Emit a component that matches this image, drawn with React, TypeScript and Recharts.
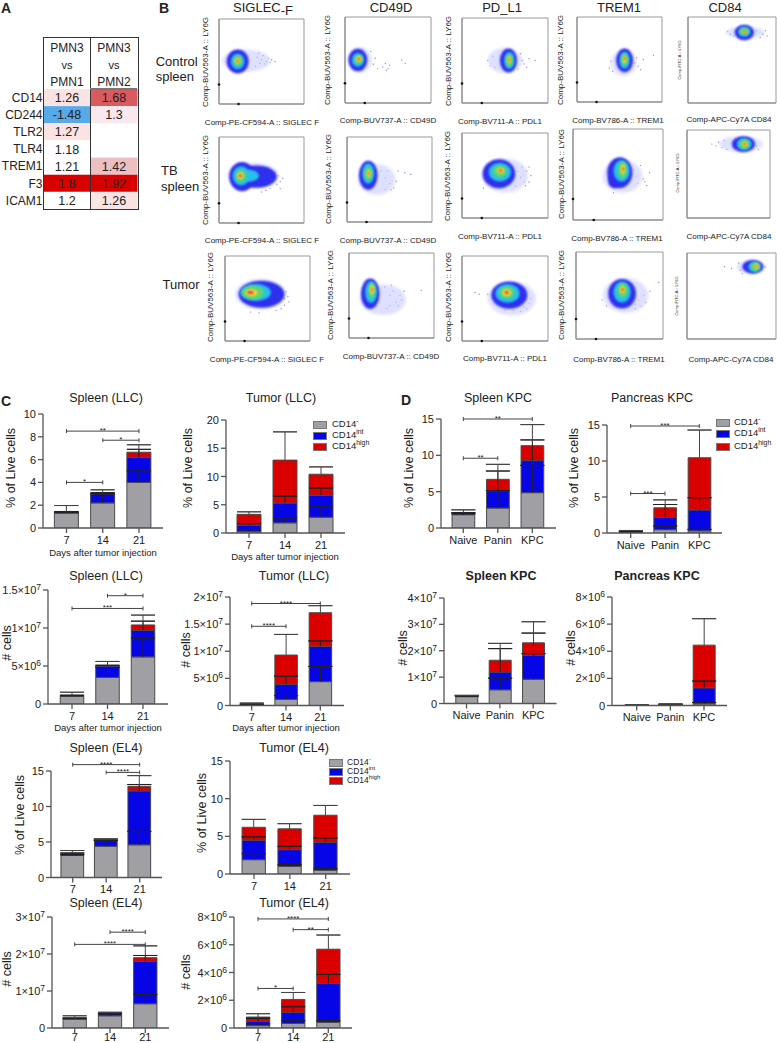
import React from "react";
import {
  Bar,
  BarChart,
  ErrorBar,
  ReferenceArea,
  ReferenceDot,
  ReferenceLine,
  Scatter,
  ScatterChart,
  XAxis,
  YAxis,
} from "recharts";

const FONT = "'Liberation Sans', Arial, sans-serif";
const INK = "#222";
const GRAY = "#a09fa3";
const BLUE = "#0505e6";
const RED = "#db0000";
const OUTLINE = "#4a4a4a";

// panel A
const heatRows = ["CD14", "CD244", "TLR2", "TLR4", "TREM1", "F3", "ICAM1"];
const heatPmn1 = [1.26, -1.48, 1.27, 1.18, 1.21, 1.8, 1.2];
const heatPmn2 = [1.68, 1.3, null, null, 1.42, 1.92, 1.26];

// panel B, contours of each density plot: x, y, half width, half height (percent of the plot), density level
const densityColors = ["#c9ccff", "#2f2fee", "#25c2ea", "#66d46a", "#f0e040", "#e8402a"];
const siglecControl = [[32, 51, 28, 13, 0], [22, 50, 13, 14, 1], [22, 50, 8, 9, 2], [22, 51, 5, 6, 3], [22, 51, 3, 3, 4], [22, 51, 1.5, 1.5, 5]];
const cd49Control = [[17, 50, 14, 15, 0], [15, 50, 11, 13, 1], [15, 50, 7, 8, 2], [16, 51, 5, 5, 3], [16, 51, 3, 3, 4], [16, 51, 1.5, 1.5, 5]];
const pdl1Control = [[50, 50, 20, 15, 0], [54, 50, 10, 14, 1], [55, 50, 6, 10, 2], [55, 50, 4, 7, 3], [55, 51, 2, 4, 4], [55, 51, 1, 2, 5]];
const trem1Control = [[55, 46, 15, 15, 0], [56, 49, 10, 14, 1], [56, 49, 6, 10, 2], [56, 50, 4, 7, 3], [56, 50, 2, 4, 4], [56, 51, 1, 2, 5]];
const cd84Control = [[65, 82, 22, 7, 0], [64, 82, 11, 9, 1], [64, 83, 7, 6, 2], [64, 83, 5, 4, 3], [64, 83, 3, 2, 4], [64, 83, 1.5, 1.5, 5]];
const siglecTb = [[40, 55, 30, 15, 0], [44, 54, 24, 13, 1], [27, 54, 15, 17, 1], [35, 55, 12, 7, 2], [26, 55, 10, 11, 2], [26, 55, 6, 7, 3], [25, 55, 3.5, 4, 4], [25, 55, 2, 2, 5]];
const cd49Tb = [[35, 50, 22, 18, 0], [25, 55, 11, 17, 1], [25, 57, 7, 12, 2], [25, 57, 4.5, 8, 3], [25.5, 57, 2.5, 4, 4], [25.5, 57, 1, 2, 5]];
const pdl1Tb = [[50, 50, 27, 20, 0], [43, 52, 19, 17, 1], [44, 54, 13, 11, 2], [44, 55, 8, 7, 3], [45, 56, 4, 3, 4], [45, 56, 2, 1.5, 5]];
const trem1Tb = [[55, 48, 22, 18, 0], [46, 43, 7, 8, 1], [52, 52, 14, 17, 1], [54, 54, 9, 12, 2], [55, 55, 5, 9, 3], [55.5, 56, 2.5, 5, 4], [55.5, 56, 1, 2.5, 5]];
const cd84Tb = [[65, 84, 26, 9, 0], [68, 84, 14, 9, 1], [69, 84, 9, 7, 2], [69, 84, 6, 5, 3], [70, 84, 3, 3, 4], [70, 84, 1.5, 1.5, 5]];
const siglecTumor = [[42, 55, 30, 18, 0], [43, 55, 27, 16, 1], [36, 57, 18, 10, 2], [33, 57, 13, 8, 3], [31, 57, 7, 4, 4], [30, 57, 4, 2, 5]];
const cd49Tumor = [[40, 45, 27, 18, 0], [25, 52, 11, 18, 1], [26, 54, 7, 13, 2], [27, 56, 4, 9, 3], [27, 57, 2.5, 5, 4], [27, 57, 1, 2.5, 5]];
const pdl1Tumor = [[58, 50, 28, 20, 0], [55, 54, 21, 16, 1], [53, 56, 14, 11, 2], [52, 57, 9, 7, 3], [52, 57, 5, 4, 4], [52, 57, 2.5, 2, 5]];
const trem1Tumor = [[57, 50, 26, 20, 0], [53, 52, 16, 17, 1], [53, 54, 10, 12, 2], [53.5, 56, 6, 8, 3], [53.5, 56.5, 3, 4, 4], [53.5, 56.5, 1.5, 2, 5]];
const cd84Tumor = [[72, 84, 16, 8, 0], [74, 84, 12, 8, 1], [76, 84, 7, 6, 2], [77, 84, 5, 5, 3], [78, 85, 2.5, 3, 4], [78, 85, 1, 1.5, 5]];

// stray events outside the dense cloud
const siglecControlDots = [[45, 55], [48, 48], [50, 52], [52, 57], [54, 47], [56, 50], [58, 54], [60, 49], [62, 52], [66, 50], [47, 60], [43, 44]];
const cd49ControlDots = [[30, 60], [33, 45], [35, 52], [38, 40], [44, 42], [47, 46], [50, 40], [52, 44], [48, 38], [66, 50], [70, 46]];
const pdl1ControlDots = [[30, 50], [33, 44], [36, 55], [38, 42], [70, 50], [72, 46], [75, 42], [78, 52], [65, 40], [68, 58], [85, 50]];
const trem1ControlDots = [[38, 40], [40, 48], [42, 36], [68, 46], [70, 52], [72, 42], [75, 38], [78, 50], [90, 55]];
const cd84ControlDots = [[45, 83], [48, 80], [52, 78], [74, 78], [78, 84], [82, 76], [85, 80], [88, 84], [90, 78]];
const siglecTbDots = [[62, 50], [65, 58], [68, 45], [70, 55], [72, 48], [60, 40], [75, 52], [55, 38], [50, 36], [72, 40]];
const cd49TbDots = [[40, 60], [45, 52], [48, 60], [50, 45], [55, 40], [58, 48], [52, 38], [60, 60], [68, 58], [75, 56], [45, 38]];
const pdl1TbDots = [[65, 55], [68, 48], [70, 60], [72, 42], [75, 55], [78, 60], [80, 50], [74, 38], [78, 42], [62, 38], [25, 35]];
const trem1TbDots = [[68, 55], [70, 48], [72, 40], [75, 60], [78, 45], [80, 42], [85, 52], [82, 38], [45, 30], [40, 48]];
const cd84TbDots = [[30, 84], [35, 82], [38, 86], [42, 80], [48, 78], [84, 82], [86, 78], [45, 88]];
const siglecTumorDots = [[70, 50], [72, 58], [70, 42], [66, 38], [60, 36], [74, 52], [75, 46], [30, 34], [40, 33]];
const cd49TumorDots = [[42, 60], [48, 50], [52, 55], [55, 42], [58, 38], [60, 50], [62, 45], [48, 38], [65, 55], [50, 62], [45, 35], [85, 56]];
const pdl1TumorDots = [[30, 55], [72, 40], [75, 38], [78, 44], [72, 62], [80, 50], [68, 35], [60, 36], [50, 36], [20, 55], [15, 57]];
const trem1TumorDots = [[30, 45], [35, 38], [68, 40], [72, 45], [75, 38], [78, 50], [80, 42], [68, 35], [85, 55], [95, 65]];
const cd84TumorDots = [[42, 84], [50, 82], [58, 88], [60, 80], [88, 84], [62, 76]];

// panels C and D, layer heights and upper error of each layer
const days = ["7", "14", "21"];
const groups = ["Naive", "Panin", "KPC"];

const llcSpleenPctGray = [1.3, 2.2, 4.0];
const llcSpleenPctBlue = [0.1, 0.8, 2.2];
const llcSpleenPctRed = [0.02, 0.05, 0.45];
const llcSpleenPctErr = [[0.08, 0.8, 1.0], [0.05, 0.1, 0.7], [0.55, 0.3, 0.65]];

const llcTumorPctGray = [0.3, 1.8, 2.8];
const llcTumorPctBlue = [1.1, 3.5, 3.9];
const llcTumorPctRed = [1.9, 7.6, 3.7];
const llcTumorPctErr = [[0.25, 0.85, 1.8], [0.25, 1.2, 1.25], [0.45, 5, 1.3]];

// counts in millions
const llcSpleenNumGray = [1.0, 3.5, 6.2];
const llcSpleenNumBlue = [0.1, 1.5, 3.5];
const llcSpleenNumRed = [0.05, 0.05, 0.7];
const llcSpleenNumErr = [[0.1, 1.3, 2.45], [0.05, 0.1, 1.2], [0.4, 0.55, 1.3]];

const llcTumorNumGray = [0.1, 1.13, 4.4];
const llcTumorNumBlue = [0.1, 2.77, 6.5];
const llcTumorNumRed = [0.15, 5.4, 6.2];
const llcTumorNumErr = [[0.05, 0.7, 2.8], [0.05, 1.5, 1], [0.1, 3.8, 1.3]];

const el4SpleenPctGray = [3.1, 4.4, 4.6];
const el4SpleenPctBlue = [0.25, 0.8, 7.6];
const el4SpleenPctRed = [0.05, 0.05, 0.65];
const el4SpleenPctErr = [[0.1, 0.8, 1.9], [0.1, 0.1, 0.9], [0.4, 0.2, 1.5]];

const el4TumorPctGray = [1.9, 1.0, 0.5];
const el4TumorPctBlue = [2.57, 2.23, 3.7];
const el4TumorPctRed = [1.73, 2.77, 3.6];
const el4TumorPctErr = [[0.8, 0.24, 0.2], [0.45, 0.44, 0.58], [1.05, 0.68, 1.3]];

const el4SpleenNumGray = [2.4, 3.3, 6.55];
const el4SpleenNumBlue = [0.1, 0.7, 11.45];
const el4SpleenNumRed = [0.05, 0.05, 1.0];
const el4SpleenNumErr = [[0.3, 0.5, 2.5], [0.1, 0.1, 1.6], [0.75, 0.2, 3.2]];

const el4TumorNumGray = [0.17, 0.33, 0.41];
const el4TumorNumBlue = [0.31, 0.8, 2.79];
const el4TumorNumRed = [0.31, 0.93, 2.48];
const el4TumorNumErr = [[0.13, 0.2, 0.12], [0.22, 0.4, 0.66], [0.24, 0.5, 1.02]];

const kpcSpleenPctGray = [1.83, 2.75, 4.86];
const kpcSpleenPctBlue = [0.23, 2.39, 4.41];
const kpcSpleenPctRed = [0.04, 1.56, 2.06];
const kpcSpleenPctErr = [[0.14, 2.4, 3.76], [0.05, 2.7, 2.85], [0.4, 2.06, 2.9]];

const kpcPancreasPctGray = [0.1, 0.46, 0.3];
const kpcPancreasPctBlue = [0.1, 1.7, 2.9];
const kpcPancreasPctRed = [0.08, 1.34, 7.25];
const kpcPancreasPctErr = [[0.05, 0.5, 0.2], [0.05, 1.8, 1.7], [0.07, 1.1, 3.85]];

// counts in units of 10^7
const kpcSpleenNumGray = [0.26, 0.52, 0.92];
const kpcSpleenNumBlue = [0.01, 0.67, 0.91];
const kpcSpleenNumRed = [0.01, 0.45, 0.47];
const kpcSpleenNumErr = [[0.03, 0.44, 0.97], [0.02, 0.89, 0.84], [0.03, 0.64, 0.8]];

// counts in millions
const kpcPancreasNumGray = [0.01, 0.03, 0.12];
const kpcPancreasNumBlue = [0.005, 0.02, 1.18];
const kpcPancreasNumRed = [0.005, 0.02, 3.15];
const kpcPancreasNumErr = [[0.01, 0.04, 0.1], [0.01, 0.04, 0.5], [0.01, 0.05, 1.95]];

function Txt({ x, y, size = 12, rotate = 0, bold = false, start = false, children }: any) {
  return (
    <div
      style={{
        position: "absolute",
        left: x,
        top: y,
        transform: `translate(${start ? "0" : "-50%"},-50%) rotate(${rotate}deg)`,
        fontSize: size,
        fontWeight: bold ? 700 : 400,
        whiteSpace: "nowrap",
        lineHeight: 1,
        color: INK,
      }}
    >
      {children}
    </div>
  );
}

function SciTick({ x, y, payload, ticks, labels }: any) {
  const [base, exp] = labels[ticks.indexOf(payload.value)].split("^");
  return (
    <text x={x} y={y + 4} textAnchor="end" fontSize={11} fill={INK} fontFamily={FONT}>
      {base}
      {exp && (
        <tspan fontSize={8.5} dy={-4}>
          {exp}
        </tspan>
      )}
    </text>
  );
}

// significance bracket drawn from the ends of a reference segment
const bracketShape = (stars: string) => (p: any) => (
  <g stroke="#444" strokeWidth={1}>
    <line x1={p.x1} y1={p.y1} x2={p.x2} y2={p.y2} />
    <line x1={p.x1} y1={p.y1 - 2} x2={p.x1} y2={p.y1 + 2} />
    <line x1={p.x2} y1={p.y2 - 2} x2={p.x2} y2={p.y2 + 2} />
    <text
      x={(p.x1 + p.x2) / 2}
      y={p.y1 + 2}
      textAnchor="middle"
      fontSize={8}
      stroke="none"
      fill={INK}
      fontFamily={FONT}
    >
      {stars}
    </text>
  </g>
);

const YW = 60;
const TOP_PAD = 34;

// one whisker per layer: a zero width bar for the stem, and a [-e, e] bar so both caps fall on the upper end
function Whisker(key: string, color: string) {
  return [
    <ErrorBar key={key + "Stem"} dataKey={key + "Stem"} width={0} stroke={color} strokeWidth={1} direction="y" isAnimationActive={false} />,
    <ErrorBar key={key + "Cap"} dataKey={key + "Cap"} width={12} stroke={color} strokeWidth={1} direction="y" isAnimationActive={false} />,
  ];
}

function StackPanel({ left, right, top, bottom, first, last, barW, cats, gray, blue, red, err, ticks, labels, brackets = [], tickGap = 3 }: any) {
  const rows = cats.map((c: string, i: number) => ({
    cat: c,
    gray: gray[i],
    blue: blue[i],
    red: red[i],
    grayStem: [0, err[0][i]],
    grayCap: [-err[0][i], err[0][i]],
    blueStem: [0, err[1][i]],
    blueCap: [-err[1][i], err[1][i]],
    redStem: [0, err[2][i]],
    redCap: [-err[2][i], err[2][i]],
  }));
  const band = (last - first) / 2;
  const padL = first - band / 2 - left;
  const padR = right - (last + band / 2);
  return (
    <div style={{ position: "absolute", left: left - YW, top: top - TOP_PAD }}>
      <BarChart
        width={right - left + YW + 4}
        height={bottom - top + TOP_PAD + 22}
        data={rows}
        margin={{ top: TOP_PAD, right: 4, left: 0, bottom: 0 }}
        barCategoryGap={0}
      >
        <XAxis
          dataKey="cat"
          height={22}
          padding={{ left: padL, right: padR }}
          tick={{ fontSize: 11, fill: INK, fontFamily: FONT }}
          tickSize={5}
          tickMargin={tickGap}
          stroke="#555"
          strokeWidth={1.3}
          interval={0}
        />
        <YAxis
          width={YW}
          domain={[0, ticks[ticks.length - 1]]}
          ticks={ticks}
          interval={0}
          tickSize={5}
          tick={<SciTick ticks={ticks} labels={labels} />}
          stroke="#555"
          strokeWidth={1.3}
          allowDataOverflow
        />
        <Bar dataKey="gray" stackId="s" barSize={barW} fill={GRAY} stroke={OUTLINE} isAnimationActive={false}>
          {Whisker("gray", "#222")}
        </Bar>
        <Bar dataKey="blue" stackId="s" barSize={barW} fill={BLUE} stroke={OUTLINE} isAnimationActive={false}>
          {Whisker("blue", "#222")}
        </Bar>
        <Bar dataKey="red" stackId="s" barSize={barW} fill={RED} stroke={OUTLINE} isAnimationActive={false}>
          {Whisker("red", "#444")}
        </Bar>
        {brackets.map((b: any, i: number) => (
          <ReferenceLine
            key={i}
            segment={[
              { x: b[0], y: b[2] },
              { x: b[1], y: b[2] },
            ]}
            ifOverflow="visible"
            shape={bracketShape(b[3])}
          />
        ))}
      </BarChart>
    </div>
  );
}

const flowYTicks = [7, 17, 27, 40, 53, 67, 78, 90];
const flowXTicks = [5, 10, 15, 20, 30, 40, 50, 60, 70, 80, 90];

function FlowPlot({ left, right, top, bottom, contours, dots, marks = true }: any) {
  const w = right - left;
  const h = bottom - top;
  const data = contours.map((c: number[]) => ({ x: c[0], y: c[1], rx: c[2], ry: c[3], level: c[4] }));
  const strays = dots.map((d: number[]) => ({ x: d[0], y: d[1] }));
  return (
    <div style={{ position: "absolute", left: left - 6, top: top - 2 }}>
      <ScatterChart width={w + 10} height={h + 8} margin={{ top: 2, right: 4, left: 0, bottom: 0 }}>
        <XAxis type="number" dataKey="x" domain={[0, 100]} ticks={flowXTicks} height={6} tick={false} tickSize={2} stroke="#888" />
        <YAxis type="number" dataKey="y" domain={[0, 100]} ticks={flowYTicks} width={6} tick={false} tickSize={2} stroke="#888" />
        <ReferenceArea x1={0} x2={100} y1={0} y2={100} fill="none" stroke="#999" strokeOpacity={1} />
        <Scatter
          data={strays}
          isAnimationActive={false}
          shape={(p: any) => <circle cx={p.cx} cy={p.cy} r={0.7} fill="#8a8cf2" />}
        />
        <Scatter
          data={data}
          isAnimationActive={false}
          shape={(p: any) => (
            <ellipse
              cx={p.cx}
              cy={p.cy}
              rx={(p.payload.rx * w) / 100}
              ry={(p.payload.ry * h) / 100}
              fill={densityColors[p.payload.level]}
              fillOpacity={p.payload.level === 0 ? 0.6 : 1}
              style={{ filter: `blur(${p.payload.level === 0 ? 1.5 : 0.8}px)` }}
            />
          )}
        />
        {marks && <ReferenceDot x={0} y={23} r={1.3} fill="#111" stroke="none" ifOverflow="visible" />}
        {marks && <ReferenceDot x={23} y={0} r={1.3} fill="#111" stroke="none" ifOverflow="visible" />}
      </ScatterChart>
    </div>
  );
}

function heatFill(v: number) {
  if (v < 0) return "#58a9e8";
  if (v >= 1.8) return "#d90000";
  if (v >= 1.6) return "#d95a5f";
  if (v >= 1.4) return "#ecbfc3";
  if (v >= 1.3) return "#f9e9ef";
  if (v >= 1.25) return "#f9e3e3";
  return "#ffffff";
}

function HeatTable() {
  const cells: any[] = [];
  heatRows.forEach((_, i) => {
    if (heatPmn1[i] !== null) cells.push({ col: 0.5, row: i + 0.5, value: heatPmn1[i] });
    if (heatPmn2[i] !== null) cells.push({ col: 1.5, row: i + 0.5, value: heatPmn2[i] });
  });
  const w = 94;
  const h = 120;
  return (
    <div style={{ position: "absolute", left: 0, top: 89 }}>
      <ScatterChart width={43.5 + w} height={h} margin={{ top: 0, right: 0, left: 0, bottom: 0 }}>
        <XAxis type="number" dataKey="col" domain={[0, 2]} hide />
        <YAxis
          type="number"
          dataKey="row"
          domain={[0, 7]}
          reversed
          width={43.5}
          ticks={heatRows.map((_, i) => i + 0.5)}
          interval={0}
          tickFormatter={(v: number) => heatRows[Math.floor(v)]}
          tick={{ fontSize: 12, fill: INK, fontFamily: FONT }}
          tickLine={false}
          axisLine={false}
          tickMargin={1}
          tickSize={0}
        />
        <Scatter
          data={cells}
          isAnimationActive={false}
          shape={(p: any) => (
            <g>
              <rect x={p.cx - w / 4} y={p.cy - h / 14} width={w / 2} height={h / 7} fill={heatFill(p.payload.value)} />
              <text x={p.cx} y={p.cy + 4.5} textAnchor="middle" fontSize={12.5} fill={INK} fontFamily={FONT}>
                {p.payload.value}
              </text>
            </g>
          )}
        />
      </ScatterChart>
    </div>
  );
}

function LegendBox({ x, ys, textX, size }: any) {
  const names = [["-", GRAY], ["int", BLUE], ["high", RED]];
  return (
    <>
      {names.map(([sup, color], i) => (
        <React.Fragment key={sup}>
          <div
            style={{
              position: "absolute",
              left: x,
              top: ys[i] - 3.5,
              width: 12,
              height: 6,
              background: color,
              border: "1px solid #777",
            }}
          />
          <Txt x={textX} y={ys[i]} size={size} start>
            CD14<sup style={{ fontSize: size * 0.72, lineHeight: 0 }}>{sup}</sup>
          </Txt>
        </React.Fragment>
      ))}
    </>
  );
}

const LY = "Comp-BUV563-A :: LY6G";
const FITC = "Comp-FITC-A :: LY6G";
const SIG = "Comp-PE-CF594-A :: SIGLEC F";
const CD49 = "Comp-BUV737-A :: CD49D";
const PDL = "Comp-BV711-A :: PDL1";
const TREM = "Comp-BV786-A :: TREM1";
const APC = "Comp-APC-Cy7A CD84";

export default function App() {
  return (
    <div
      style={{
        position: "absolute",
        left: 0,
        top: 0,
        width: 777,
        height: 1043,
        overflow: "hidden",
        background: "#fff",
        fontFamily: FONT,
      }}
    >
      {/* A */}
      <Txt x={6} y={8} size={14} bold>A</Txt>
      <HeatTable />
      <div style={{ position: "absolute", left: 43, top: 37, width: 94, height: 171, border: "1px solid #333" }} />
      <div style={{ position: "absolute", left: 90, top: 37, width: 1, height: 172, background: "#333" }} />
      <div style={{ position: "absolute", left: 90, top: 88, width: 47, height: 1.5, background: "#777" }} />
      {[67, 114].map((x) => (
        <React.Fragment key={x}>
          <Txt x={x} y={48} size={12}>PMN3</Txt>
          <Txt x={x} y={65} size={11}>vs</Txt>
          <Txt x={x} y={82} size={12}>{x === 67 ? "PMN1" : "PMN2"}</Txt>
        </React.Fragment>
      ))}

      {/* B */}
      <Txt x={164} y={8} size={14} bold>B</Txt>
      <Txt x={263} y={7} size={13}>SIGLEC<sub style={{ fontSize: 13, lineHeight: 0 }}>-F</sub></Txt>
      <Txt x={391} y={7} size={13}>CD49D</Txt>
      <Txt x={502} y={7} size={13}>PD_L1</Txt>
      <Txt x={619} y={7} size={13}>TREM1</Txt>
      <Txt x={725} y={7} size={13}>CD84</Txt>
      <Txt x={155.7} y={61} size={13} start>Control</Txt>
      <Txt x={155.7} y={76} size={13} start>spleen</Txt>
      <Txt x={161} y={170} size={13} start>TB</Txt>
      <Txt x={161} y={186} size={13} start>spleen</Txt>
      <Txt x={162.5} y={284} size={13} start>Tumor</Txt>

      <FlowPlot left={219} right={304} top={19} bottom={104} contours={siglecControl} dots={siglecControlDots} />
      <FlowPlot left={345} right={431} top={17} bottom={103} contours={cd49Control} dots={cd49ControlDots} />
      <FlowPlot left={462} right={548} top={18} bottom={103} contours={pdl1Control} dots={pdl1ControlDots} />
      <FlowPlot left={577} right={662} top={17} bottom={102} contours={trem1Control} dots={trem1ControlDots} />
      <FlowPlot left={688} right={776} top={17} bottom={103} contours={cd84Control} dots={cd84ControlDots} marks={false} />
      <FlowPlot left={219} right={304} top={137} bottom={223} contours={siglecTb} dots={siglecTbDots} />
      <FlowPlot left={347} right={432} top={137} bottom={222} contours={cd49Tb} dots={cd49TbDots} />
      <FlowPlot left={462} right={548} top={133} bottom={218} contours={pdl1Tb} dots={pdl1TbDots} />
      <FlowPlot left={573} right={663} top={129} bottom={220} contours={trem1Tb} dots={trem1TbDots} />
      <FlowPlot left={687} right={770} top={130} bottom={218} contours={cd84Tb} dots={cd84TbDots} marks={false} />
      <FlowPlot left={225} right={310} top={256} bottom={341} contours={siglecTumor} dots={siglecTumorDots} />
      <FlowPlot left={349} right={434} top={253} bottom={338} contours={cd49Tumor} dots={cd49TumorDots} />
      <FlowPlot left={462} right={548} top={256} bottom={341} contours={pdl1Tumor} dots={pdl1TumorDots} />
      <FlowPlot left={576} right={663} top={252} bottom={339} contours={trem1Tumor} dots={trem1TumorDots} />
      <FlowPlot left={687} right={776} top={253} bottom={339} contours={cd84Tumor} dots={cd84TumorDots} marks={false} />

      {[[206, 62], [328, 60], [449, 61], [561, 60], [206, 180], [329, 179], [448, 176], [562, 174], [211, 297], [331, 295], [449, 297], [562, 295]].map(([x, y]) => (
        <Txt key={`${x}-${y}`} x={x} y={y} size={8} rotate={-90}>{LY}</Txt>
      ))}
      {[[680, 60], [678, 173], [677, 296]].map(([x, y]) => (
        <Txt key={`${x}-${y}`} x={x} y={y} size={4} rotate={-90}>{FITC}</Txt>
      ))}
      <Txt x={262} y={123} size={8}>{SIG}</Txt>
      <Txt x={388} y={121} size={8}>{CD49}</Txt>
      <Txt x={500} y={122} size={8}>{PDL}</Txt>
      <Txt x={618} y={121} size={8}>{TREM}</Txt>
      <Txt x={729} y={120} size={8}>{APC}</Txt>
      <Txt x={262} y={241} size={8}>{SIG}</Txt>
      <Txt x={388} y={241} size={8}>{CD49}</Txt>
      <Txt x={500} y={237} size={8}>{PDL}</Txt>
      <Txt x={617} y={239} size={8}>{TREM}</Txt>
      <Txt x={729} y={237} size={8}>{APC}</Txt>
      <Txt x={267} y={360} size={8}>{SIG}</Txt>
      <Txt x={391} y={357} size={8}>{CD49}</Txt>
      <Txt x={505} y={359} size={8}>{PDL}</Txt>
      <Txt x={619} y={360} size={8}>{TREM}</Txt>
      <Txt x={731} y={360} size={8}>{APC}</Txt>

      {/* C */}
      <Txt x={6} y={401} size={14} bold>C</Txt>
      <Txt x={106} y={398} size={12.5}>Spleen (LLC)</Txt>
      <Txt x={11} y={468} size={12.5} rotate={-90}>% of Live cells</Txt>
      <Txt x={103} y={553} size={9.5}>Days after tumor injection</Txt>
      <StackPanel
        left={43} right={163} top={414} bottom={528} first={66.5} last={139} barW={24}
        cats={days} gray={llcSpleenPctGray} blue={llcSpleenPctBlue} red={llcSpleenPctRed} err={llcSpleenPctErr}
        ticks={[0, 2, 4, 6, 8, 10]} labels={["0", "2", "4", "6", "8", "10"]}
        brackets={[["7", "21", 8.5, "**"], ["14", "21", 7.7, "*"], ["7", "14", 4, "*"]]}
      />

      <Txt x={281} y={398} size={12.5}>Tumor (LLC)</Txt>
      <Txt x={188} y={468} size={12.5} rotate={-90}>% of Live cells</Txt>
      <Txt x={285} y={557} size={9.5}>Days after tumor injection</Txt>
      <StackPanel
        left={226} right={345} top={420} bottom={533} first={249} last={321} barW={24}
        cats={days} gray={llcTumorPctGray} blue={llcTumorPctBlue} red={llcTumorPctRed} err={llcTumorPctErr}
        ticks={[0, 5, 10, 15, 20]} labels={["0", "5", "10", "15", "20"]}
      />
      <LegendBox x={313} ys={[424, 435, 446]} textX={332} size={9.5} />

      <Txt x={106} y={576} size={12.5}>Spleen (LLC)</Txt>
      <Txt x={7} y={643} size={12.5} rotate={-90}># cells</Txt>
      <Txt x={108} y={728} size={9.5}>Days after tumor injection</Txt>
      <StackPanel
        left={48} right={168} top={590} bottom={704} first={72} last={143} barW={23.5}
        cats={days} gray={llcSpleenNumGray} blue={llcSpleenNumBlue} red={llcSpleenNumRed} err={llcSpleenNumErr}
        ticks={[0, 5, 10, 15]} labels={["0", "5×10^6", "1×10^7", "1.5×10^7"]}
        brackets={[["7", "21", 12.57, "***"], ["14", "21", 14.25, "*"]]}
      />

      <Txt x={294} y={576} size={12.5}>Tumor (LLC)</Txt>
      <Txt x={186} y={650} size={12.5} rotate={-90}># cells</Txt>
      <Txt x={286} y={728} size={9.5}>Days after tumor injection</Txt>
      <StackPanel
        left={230} right={344} top={597} bottom={705.5} first={251.7} last={320.3} barW={22.5}
        cats={days} gray={llcTumorNumGray} blue={llcTumorNumBlue} red={llcTumorNumRed} err={llcTumorNumErr}
        ticks={[0, 5, 10, 15, 20]} labels={["0", "5×10^6", "1×10^7", "1.5×10^7", "2×10^7"]}
        brackets={[["7", "21", 18.8, "****"], ["7", "14", 14.6, "****"]]}
      />

      <Txt x={106} y={748} size={12.5}>Spleen (EL4)</Txt>
      <Txt x={20} y={815} size={12.5} rotate={-90}>% of Live cells</Txt>
      <StackPanel
        left={51} right={162} top={771} bottom={877.5} first={72.7} last={139.7} barW={22.7}
        cats={days} gray={el4SpleenPctGray} blue={el4SpleenPctBlue} red={el4SpleenPctRed} err={el4SpleenPctErr}
        ticks={[0, 5, 10, 15]} labels={["0", "5", "10", "15"]}
        brackets={[["7", "21", 15.9, "****"], ["14", "21", 14.8, "****"]]}
      />

      <Txt x={294} y={748} size={12.5}>Tumor (EL4)</Txt>
      <Txt x={202} y={813} size={12.5} rotate={-90}>% of Live cells</Txt>
      <StackPanel
        left={230} right={350} top={761} bottom={874} first={254} last={325.7} barW={23.3}
        cats={days} gray={el4TumorPctGray} blue={el4TumorPctBlue} red={el4TumorPctRed} err={el4TumorPctErr}
        ticks={[0, 5, 10, 15]} labels={["0", "5", "10", "15"]}
      />
      <LegendBox x={329} ys={[762, 771, 780]} textX={347} size={8.5} />

      <Txt x={106} y={903} size={12.5}>Spleen (EL4)</Txt>
      <Txt x={7} y={969} size={12.5} rotate={-90}># cells</Txt>
      <StackPanel
        left={52} right={169} top={917} bottom={1028} first={74.7} last={145.3} barW={23.3} tickGap={0}
        cats={days} gray={el4SpleenNumGray} blue={el4SpleenNumBlue} red={el4SpleenNumRed} err={el4SpleenNumErr}
        ticks={[0, 10, 20, 30]} labels={["0", "1×10^7", "2×10^7", "3×10^7"]}
        brackets={[["14", "21", 25.9, "****"], ["7", "21", 22.6, "****"]]}
      />

      <Txt x={294} y={903} size={12.5}>Tumor (EL4)</Txt>
      <Txt x={186} y={972} size={12.5} rotate={-90}># cells</Txt>
      <StackPanel
        left={234} right={352} top={917} bottom={1028} first={258} last={328.3} barW={23.3} tickGap={0}
        cats={days} gray={el4TumorNumGray} blue={el4TumorNumBlue} red={el4TumorNumRed} err={el4TumorNumErr}
        ticks={[0, 2, 4, 6, 8]} labels={["0", "2×10^6", "4×10^6", "6×10^6", "8×10^6"]}
        brackets={[["7", "21", 7.86, "****"], ["14", "21", 7.09, "**"], ["7", "14", 2.85, "*"]]}
      />

      {/* D */}
      <Txt x={406} y={400} size={14} bold>D</Txt>
      <Txt x={498} y={398} size={12.5}>Spleen KPC</Txt>
      <Txt x={409} y={468} size={12.5} rotate={-90}>% of Live cells</Txt>
      <StackPanel
        left={441} right={556} top={419} bottom={528} first={463.3} last={532.3} barW={22.7}
        cats={groups} gray={kpcSpleenPctGray} blue={kpcSpleenPctBlue} red={kpcSpleenPctRed} err={kpcSpleenPctErr}
        ticks={[0, 5, 10, 15]} labels={["0", "5", "10", "15"]}
        brackets={[["Naive", "KPC", 15, "**"], ["Naive", "Panin", 9.6, "**"]]}
      />

      <Txt x={652} y={398} size={12.5}>Pancreas KPC</Txt>
      <Txt x={574} y={468} size={12.5} rotate={-90}>% of Live cells</Txt>
      <StackPanel
        left={607} right={722} top={425} bottom={533} first={630.7} last={699.3} barW={22.7}
        cats={groups} gray={kpcPancreasPctGray} blue={kpcPancreasPctBlue} red={kpcPancreasPctRed} err={kpcPancreasPctErr}
        ticks={[0, 5, 10, 15]} labels={["0", "5", "10", "15"]}
        brackets={[["Naive", "KPC", 14.86, "***"], ["Naive", "Panin", 5.48, "***"]]}
      />
      <LegendBox x={716} ys={[422, 433, 446]} textX={734} size={9.5} />

      <Txt x={501} y={576} size={12.5} bold>Spleen KPC</Txt>
      <Txt x={403} y={648} size={12.5} rotate={-90}># cells</Txt>
      <StackPanel
        left={443.5} right={556} top={598} bottom={703.5} first={466} last={532.7} barW={22}
        cats={groups} gray={kpcSpleenNumGray} blue={kpcSpleenNumBlue} red={kpcSpleenNumRed} err={kpcSpleenNumErr}
        ticks={[0, 1, 2, 3, 4]} labels={["0", "1×10^7", "2×10^7", "3×10^7", "4×10^7"]}
      />

      <Txt x={657} y={576} size={12.5} bold>Pancreas KPC</Txt>
      <Txt x={571} y={648} size={12.5} rotate={-90}># cells</Txt>
      <StackPanel
        left={612} right={727} top={596.5} bottom={705} first={636.7} last={704} barW={22}
        cats={groups} gray={kpcPancreasNumGray} blue={kpcPancreasNumBlue} red={kpcPancreasNumRed} err={kpcPancreasNumErr}
        ticks={[0, 2, 4, 6, 8]} labels={["0", "2×10^6", "4×10^6", "6×10^6", "8×10^6"]}
      />
    </div>
  );
}
